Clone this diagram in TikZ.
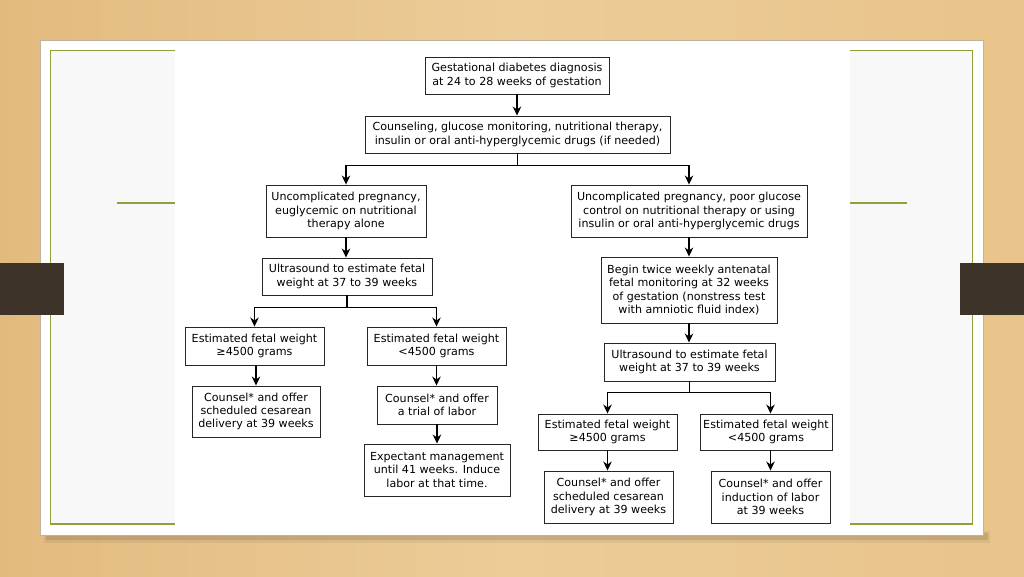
\documentclass[tikz,border=0pt]{standalone}
\usepackage{fontspec}
\setmainfont{DejaVu Sans}
\usetikzlibrary{arrows.meta}
\definecolor{woodA}{HTML}{ECCC98}
\definecolor{woodB}{HTML}{E3BA7E}
\definecolor{woodC}{HTML}{E9C48A}
\definecolor{framegreen}{HTML}{8DA23A}
\definecolor{innerfill}{HTML}{F8F8F8}
\definecolor{tabbrown}{HTML}{3E3329}
\definecolor{slideedge}{HTML}{BDB39E}
\begin{document}
\begin{tikzpicture}[x=1pt,y=-1pt,
  box/.style={draw=black!85, line width=0.95pt, fill=white, align=center, inner sep=0pt,
    font=\fontsize{11.1}{13.4}\selectfont},
  arr/.style={-{Stealth[length=9pt,width=8.5pt]}, line width=1.05pt},
  ln/.style={line width=1.05pt},
  greenline/.style={framegreen, line width=1.2pt}]
\useasboundingbox (0,0) rectangle (1024,576);
% wood background
\shade[left color=woodB, right color=woodC, middle color=woodA] (0,0) rectangle (1024,576);
% slide shadow
\fill[black, opacity=0.10] (46,533) rectangle (988,540);
\fill[black, opacity=0.06] (44,531) rectangle (990,543);
% slide
\fill[white, draw=slideedge, line width=0.5pt] (40.7,40.7) rectangle (983,535);
\fill[innerfill] (50.7,50.7) rectangle (972.7,524);
\draw[greenline] (50.7,50.7) rectangle (972.7,524);
\draw[greenline] (117,203) -- (175,203);
\draw[greenline] (850,203) -- (907,203);
% tabs
\fill[tabbrown] (0,263) rectangle (64,315);
\fill[tabbrown] (960,263) rectangle (1024,315);
% flowchart image area
\fill[white] (175,44) rectangle (850,531);

% nodes
\node[box, minimum width=184pt, minimum height=37pt] (b1) at (517,75.5) {Gestational diabetes diagnosis\\at 24 to 28 weeks of gestation};
\node[box, minimum width=305pt, minimum height=37pt] (b2) at (517.5,134.5) {Counseling, glucose monitoring, nutritional therapy,\\insulin or oral anti-hyperglycemic drugs (if needed)};
\node[box, minimum width=160pt, minimum height=52pt] (b3) at (346,211) {Uncomplicated pregnancy,\\euglycemic on nutritional\\therapy alone};
\node[box, minimum width=170pt, minimum height=37pt] (b4) at (347,276.5) {Ultrasound to estimate fetal\\weight at 37 to 39 weeks};
\node[box, minimum width=139pt, minimum height=38pt] (b5) at (254.5,346) {Estimated fetal weight\\≥4500 grams};
\node[box, minimum width=139pt, minimum height=38pt] (b6) at (436.5,346) {Estimated fetal weight\\<4500 grams};
\node[box, minimum width=128pt, minimum height=51pt] (b7) at (256,411.5) {Counsel* and offer\\scheduled cesarean\\delivery at 39 weeks};
\node[box, minimum width=120pt, minimum height=38pt] (b8) at (437,405) {Counsel* and offer\\a trial of labor};
\node[box, minimum width=146pt, minimum height=52pt] (b9) at (437,470) {Expectant management\\until 41 weeks. Induce\\labor at that time.};
\node[box, minimum width=236pt, minimum height=52pt] (b10) at (689,211) {Uncomplicated pregnancy, poor glucose\\control on nutritional therapy or using\\insulin or oral anti-hyperglycemic drugs};
\node[box, minimum width=176pt, minimum height=66pt] (b11) at (689,290) {Begin twice weekly antenatal\\fetal monitoring at 32 weeks\\of gestation (nonstress test\\with amniotic fluid index)};
\node[box, minimum width=171pt, minimum height=38pt] (b12) at (689.5,362) {Ultrasound to estimate fetal\\weight at 37 to 39 weeks};
\node[box, minimum width=139pt, minimum height=36pt] (b13) at (607.5,432) {Estimated fetal weight\\≥4500 grams};
\node[box, minimum width=132pt, minimum height=36pt] (b14) at (766,432) {Estimated fetal weight\\<4500 grams};
\node[box, minimum width=129pt, minimum height=52pt] (b15) at (608.5,497) {Counsel* and offer\\scheduled cesarean\\delivery at 39 weeks};
\node[box, minimum width=119pt, minimum height=52pt] (b16) at (770.5,497) {Counsel* and offer\\induction of labor\\at 39 weeks};

% connectors
\draw[arr] (b1.south) -- (b1.south |- b2.north);
\draw[ln] (b2.south) -- ++(0,12) coordinate (j1);
\draw[arr] (j1) -| (b3.north);
\draw[arr] (j1) -| (b10.north);
\draw[arr] (b3.south) -- (b3.south |- b4.north);
\draw[ln] (b4.south) -- ++(0,12) coordinate (j2);
\draw[arr] (j2) -| (b5.north);
\draw[arr] (j2) -| (b6.north);
\draw[arr] (b7.north |- b5.south) -- (b7.north);
\draw[arr] (b6.south) -- (b6.south |- b8.north);
\draw[arr] (b8.south) -- (b8.south |- b9.north);
\draw[arr] (b10.south) -- (b10.south |- b11.north);
\draw[arr] (b11.south) -- (b11.south |- b12.north);
\draw[ln] (b12.south) -- ++(0,11) coordinate (j3);
\draw[arr] (j3) -| (b13.north);
\draw[arr] (j3) -| (b14.north -| b16.north);
\draw[arr] (b13.south) -- (b13.south |- b15.north);
\draw[arr] (b14.south -| b16.north) -- (b16.north);
\end{tikzpicture}
\end{document}
